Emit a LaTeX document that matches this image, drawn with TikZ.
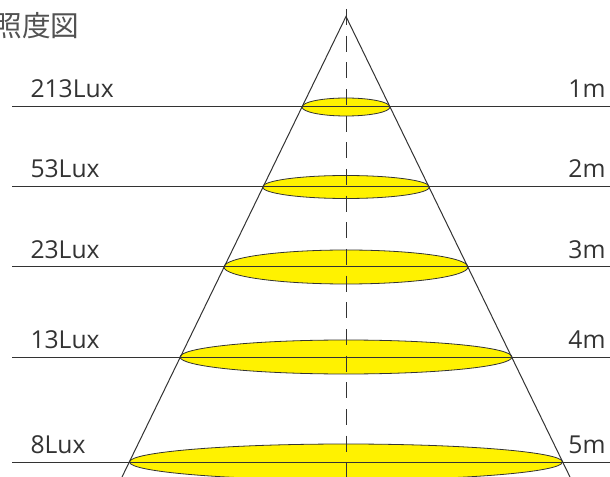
\documentclass[tikz,border=0pt]{standalone}
\usepackage{fontspec}
\setmainfont{Open Sans}
\newfontfamily\jpfont{Noto Sans CJK JP}
\usetikzlibrary{positioning}
\definecolor{inkgray}{HTML}{333333}
\definecolor{spotyellow}{HTML}{FFF200}

\begin{document}
\begin{tikzpicture}[x=0.75pt, y=-0.75pt, line width=0.75pt,
    level/.style={draw=inkgray},
    spot/.style={fill=spotyellow, draw=inkgray, line width=0.6pt},
    lbl/.style={text=inkgray, inner sep=0pt, font=\fontsize{18.5}{20}\selectfont}]
        \useasboundingbox (0,0) rectangle (610,477);
        % Title
        \node (title) [lbl, anchor=east, text=inkgray!85, font=\jpfont\fontsize{21.5}{23}\selectfont] at (80,26) {照度図};

        % Spots, levels and labels
        \foreach \i/\y/\rx/\ry/\lux in {1/107/44/9/213, 2/187/83.5/11.5/53, 3/267/122/17/23, 4/357/166/17/13, 5/462/216.5/18/8} {
            \draw[spot] (346,\y) ellipse [x radius=\rx, y radius=\ry];
            \coordinate (left\i) at (12,\y);
            \coordinate (right\i) at (610,\y);
            \draw[level] (left\i) -- (right\i);
            \node (lux\i) [lbl, anchor=base west] at (30,\y-9) {\lux Lux};
            \node (dist\i) [lbl, anchor=base east] at (606,\y-9) {\i m};
        }

        % Axis and cone
        \coordinate (apex) at (346,16.5);
        \coordinate (axistop) at (346,9);
        \coordinate (axisbottom) at (346,477);
        \coordinate (coneleft) at (122,477);
        \coordinate (coneright) at (570,477);
        \draw[level, dash pattern=on 12pt off 8pt] (axistop) -- (axisbottom);
        \draw[level] (coneleft) -- (apex) -- (coneright);
\end{tikzpicture}
\end{document}
